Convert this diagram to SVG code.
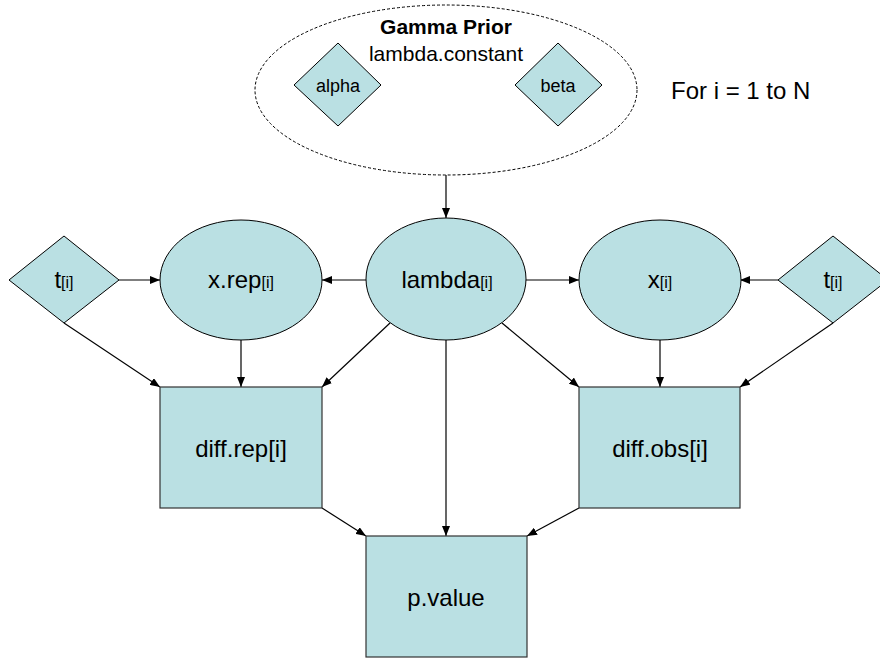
<svg xmlns="http://www.w3.org/2000/svg" width="880" height="658" viewBox="0 0 880 658">
<style>
.n{fill:#BAE0E3;stroke:#000;stroke-width:1}
.b{fill:#BAE0E3;stroke:#333;stroke-width:1.2}
.t{font-family:"Liberation Sans",Arial,sans-serif;fill:#000;text-anchor:middle}
.big{font-size:24px}
.sub{font-size:16px}
.e{stroke:#000;stroke-width:1.2;fill:none;marker-end:url(#ah)}
</style>
<defs>
<marker id="ah" markerUnits="userSpaceOnUse" markerWidth="10" markerHeight="8" refX="10" refY="4" orient="auto">
<path d="M0,0 L10,4 L0,8 z" fill="#000"/>
</marker>
</defs>
<rect width="880" height="658" fill="#fff"/>
<g id="gamma-prior">
<ellipse cx="446" cy="90" rx="191" ry="85" fill="#fff" stroke="#000" stroke-width="1" stroke-dasharray="3,2"/>
<text class="t" x="446" y="34" font-size="21" font-weight="bold">Gamma Prior</text>
<text class="t" x="446" y="61" font-size="21">lambda.constant</text>
</g>
<g id="alpha">
<polygon class="n" points="338,43 381,85 338,126 294,85"/>
<text class="t" x="338" y="92" font-size="18">alpha</text>
</g>
<g id="beta">
<polygon class="n" points="558,43 602,85 558,126 515,85"/>
<text class="t" x="558" y="92" font-size="18">beta</text>
</g>
<g id="loop-label">
<text x="671" y="99" font-family="Liberation Sans,Arial,sans-serif" font-size="24">For i = 1 to N</text>
</g>
<g id="connectors">
<line class="e" x1="446" y1="175" x2="446" y2="218"/>
<line class="e" x1="119" y1="280" x2="160" y2="280"/>
<line class="e" x1="366" y1="280" x2="322" y2="280"/>
<line class="e" x1="526" y1="280" x2="579" y2="280"/>
<line class="e" x1="778" y1="280" x2="740" y2="280"/>
<line class="e" x1="64" y1="323" x2="160" y2="387"/>
<line class="e" x1="241" y1="340" x2="241" y2="387"/>
<line class="e" x1="390" y1="323" x2="322" y2="387"/>
<line class="e" x1="502" y1="323" x2="579" y2="387"/>
<line class="e" x1="660" y1="340" x2="660" y2="387"/>
<line class="e" x1="833" y1="323" x2="740" y2="387"/>
<line class="e" x1="446" y1="340" x2="446" y2="536"/>
<line class="e" x1="322" y1="508" x2="366" y2="536"/>
<line class="e" x1="579" y1="508" x2="527" y2="536"/>
</g>
<g id="t-left">
<polygon class="n" points="64,236 119,280 64,323 9,280"/>
<text class="t big" x="64" y="288">t<tspan class="sub">[i]</tspan></text>
</g>
<g id="x-rep">
<ellipse class="n" cx="241" cy="280" rx="81" ry="60"/>
<text class="t big" x="241" y="288">x.rep<tspan class="sub">[i]</tspan></text>
</g>
<g id="lambda">
<ellipse class="n" cx="446" cy="279" rx="80" ry="61"/>
<text class="t big" x="447" y="288">lambda<tspan class="sub">[i]</tspan></text>
</g>
<g id="x">
<ellipse class="n" cx="660" cy="280" rx="81" ry="60"/>
<text class="t big" x="660" y="288">x<tspan class="sub">[i]</tspan></text>
</g>
<g id="t-right">
<polygon class="n" points="833,236 888,280 833,323 778,280"/>
<text class="t big" x="833" y="288">t<tspan class="sub">[i]</tspan></text>
</g>
<g id="diff-rep">
<rect class="b" x="160" y="387" width="162" height="121"/>
<text class="t big" x="241" y="457">diff.rep[i]</text>
</g>
<g id="diff-obs">
<rect class="b" x="579" y="387" width="161" height="121"/>
<text class="t big" x="660" y="457">diff.obs[i]</text>
</g>
<g id="p-value">
<rect class="b" x="366" y="536" width="161" height="121"/>
<text class="t big" x="446" y="606">p.value</text>
</g>
</svg>
